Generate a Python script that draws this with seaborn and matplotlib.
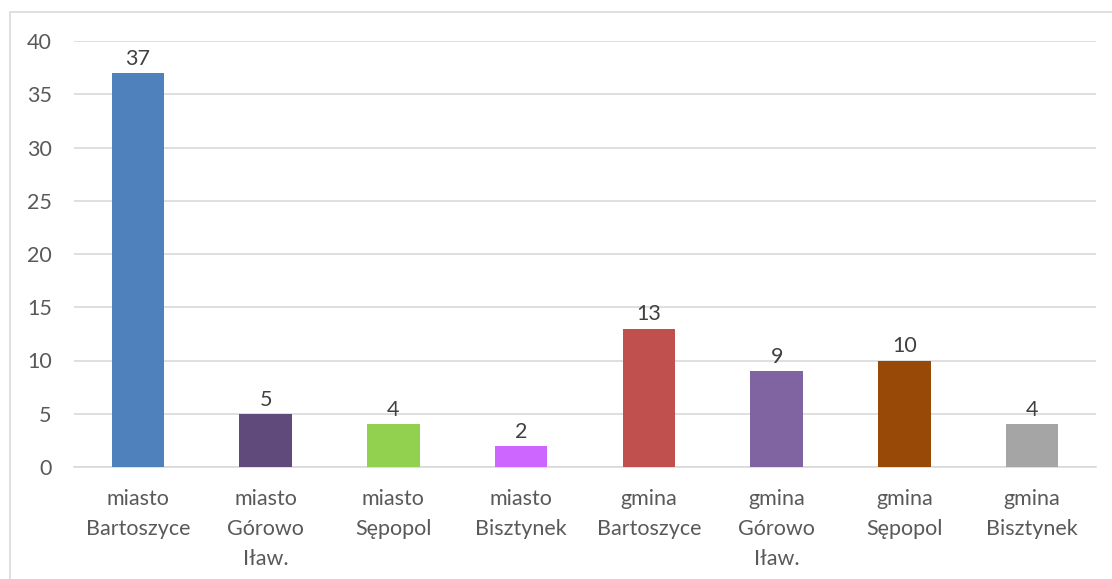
import matplotlib
matplotlib.use("Agg")
import matplotlib.pyplot as plt
from matplotlib.patches import Rectangle
import seaborn as sns
import pandas as pd

categories = [
    "miasto\nBartoszyce", "miasto\nGórowo\nIław.", "miasto\nSępopol", "miasto\nBisztynek",
    "gmina\nBartoszyce", "gmina\nGórowo\nIław.", "gmina\nSępopol", "gmina\nBisztynek",
]
values = [37, 5, 4, 2, 13, 9, 10, 4]
colors = ["#4F81BD", "#604A7B", "#92D050", "#CC66FF",
          "#C0504D", "#8064A2", "#984807", "#A5A5A5"]
y_ticks = [0, 5, 10, 15, 20, 25, 30, 35, 40]

sns.set_theme(style="white")
plt.rcParams["font.family"] = ["Lato", "DejaVu Sans"]

df = pd.DataFrame({"kategoria": categories, "liczba": values})

fig = plt.figure(figsize=(11.12, 5.79), dpi=100)
ax = fig.add_axes([74 / 1112, 1 - 467 / 579, (1096 - 74) / 1112, (467 - 41) / 579])

sns.barplot(data=df, x="kategoria", y="liczba", hue="kategoria", palette=colors,
            legend=False, width=0.41, saturation=1, linewidth=0, ax=ax, zorder=3)

ax.set_ylim(0, 40)
ax.set_xlim(-0.5, len(categories) - 0.5)
ax.set_yticks(y_ticks)
ax.yaxis.grid(True, color="#D9D9D9", linewidth=1.2, zorder=0)
ax.xaxis.grid(False)
for side in ["top", "right", "left"]:
    ax.spines[side].set_visible(False)
ax.spines["bottom"].set_color("#D9D9D9")
ax.spines["bottom"].set_linewidth(1.2)
ax.set_xlabel("")
ax.set_ylabel("")
ax.tick_params(axis="both", length=0, labelsize=15.5, labelcolor="#595959")
ax.tick_params(axis="y", pad=16)
ax.tick_params(axis="x", pad=16)
for lbl in ax.get_xticklabels():
    lbl.set_linespacing(1.62)
    lbl.set_verticalalignment("top")

for container in ax.containers:
    ax.bar_label(container, padding=3, fontsize=15.5, color="#404040")

# outer chart frame
fig.patches.append(Rectangle((10 / 1112, -0.05), 1.2, 1 - 12 / 579 + 0.05,
                             transform=fig.transFigure, fill=False,
                             edgecolor="#D9D9D9", linewidth=1.2))

fig.savefig("out.png", dpi=100, facecolor="white")
